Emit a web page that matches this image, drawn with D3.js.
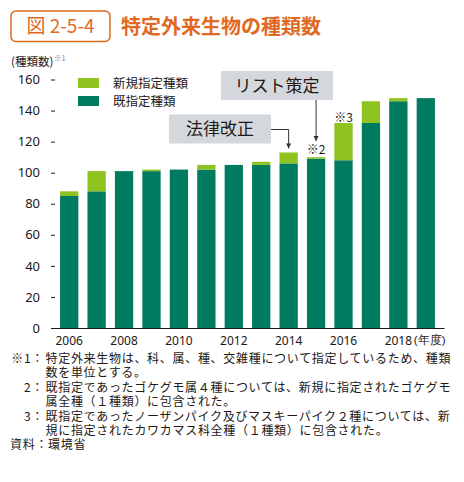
<!DOCTYPE html>
<html><head><meta charset="utf-8">
<script src="https://cdn.jsdelivr.net/npm/d3@7"></script>
<style>
html,body{margin:0;padding:0;background:#fff;}
svg{display:block;font-family:"Noto Sans CJK JP","Noto Sans",sans-serif;}
</style></head>
<body>
<script>
// ---- data ----
const years = [2006,2007,2008,2009,2010,2011,2012,2013,2014,2015,2016,2017,2018,2019];
const existing = [85,88,101,101,102,102,105,105,106,109,108,132,146,148];
const newly    = [3,13,0,1,0,3,0,2,7,1,24,14,2,0];
const xTickYears = [2006,2008,2010,2012,2014,2016,2018];
const yTicks = [0,20,40,60,80,100,120,140,160];
const seriesNames = ["新規指定種類","既指定種類"];
const marks = [{year:2015,label:"※2"},{year:2016,label:"※3"}];
const callouts = [{year:2014,label:"法律改正"},{year:2015,label:"リスト策定"}];
const notes = [
  {label:"※1：", lines:["特定外来生物は、科、属、種、交雑種について指定しているため、種類","数を単位とする。"]},
  {label:"2：", lines:["既指定であったゴケグモ属４種については、新規に指定されたゴケグモ","属全種（１種類）に包含された。"]},
  {label:"3：", lines:["既指定であったノーザンパイク及びマスキーパイク２種については、新","規に指定されたカワカマス科全種（１種類）に包含された。"]}
];
const sourceText = "資料：環境省";

const W=464,H=482;
const darkG="#007b5f", lightG="#8fc31f", orange="#e0691f", boxGray="#d4d8dd", ink="#231815";

const svg=d3.select("body").append("svg").attr("width",W).attr("height",H);

// title
svg.append("rect").attr("x",11).attr("y",11).attr("width",99).attr("height",30.5)
  .attr("rx",5).attr("fill","#fff").attr("stroke",orange).attr("stroke-width",1.5);
svg.append("text").attr("x",60.5).attr("y",33).attr("text-anchor","middle")
  .attr("fill",orange).attr("font-size",19).text("図 2-5-4");
svg.append("text").attr("x",121).attr("y",33.5).attr("fill",orange)
  .attr("font-size",20).attr("font-weight","bold").text("特定外来生物の種類数");

// scales
const x=d3.scaleBand().domain(years).range([51,444]).paddingInner(0.333).paddingOuter(0.33);
const y=d3.scaleLinear().domain([0,160]).range([328,79.5]);

// unit
svg.append("text").attr("x",11).attr("y",66).attr("font-size",11.5).attr("fill",ink).text("(種類数)");
svg.append("text").attr("x",54).attr("y",61).attr("font-size",7.5).attr("fill","#888").text("※1");

// y axis
const ya=svg.append("g").attr("transform","translate(55,0)")
  .call(d3.axisLeft(y).tickValues(yTicks).tickSize(4).tickPadding(11));
ya.select(".domain").remove();
ya.selectAll("line").attr("stroke",ink);
ya.selectAll("text").attr("font-size",13).attr("fill",ink).attr("font-family","'Noto Sans','Noto Sans CJK JP',sans-serif");

// bars
const data=years.map((yr,i)=>({yr,ex:existing[i],nw:newly[i]}));
svg.append("g").selectAll("rect").data(data).join("rect")
  .attr("x",d=>x(d.yr)).attr("width",x.bandwidth())
  .attr("y",d=>y(d.ex)).attr("height",d=>y(0)-y(d.ex)).attr("fill",darkG);
svg.append("g").selectAll("rect").data(data.filter(d=>d.nw>0)).join("rect")
  .attr("x",d=>x(d.yr)).attr("width",x.bandwidth())
  .attr("y",d=>y(d.ex+d.nw)).attr("height",d=>y(d.ex)-y(d.ex+d.nw)).attr("fill",lightG);

// x axis
const xa=svg.append("g").attr("transform","translate(0,328)")
  .call(d3.axisBottom(x).tickValues(xTickYears).tickSize(0).tickSizeOuter(0).tickPadding(8));
xa.select(".domain").attr("stroke",ink).attr("stroke-width",1.2);
xa.selectAll("text").attr("font-size",12).attr("fill",ink).attr("font-family","'Noto Sans','Noto Sans CJK JP',sans-serif");
xa.selectAll(".tick").filter(d=>d===2018).append("text")
  .attr("x",15.5).attr("y",8).attr("dy","0.71em").attr("text-anchor","start")
  .attr("fill",ink).attr("font-size",11.5).text("(年度)");

// legend
const lg=svg.append("g");
[lightG,darkG].forEach((c,i)=>{
  lg.append("rect").attr("x",78).attr("y",78+i*18).attr("width",21).attr("height",10).attr("fill",c);
  lg.append("text").attr("x",113).attr("y",88+i*18).attr("font-size",12.5).attr("fill",ink).text(seriesNames[i]);
});

// marks ※2 ※3
const total=yr=>{const i=years.indexOf(yr);return existing[i]+newly[i];};
marks.forEach((m,k)=>{
  svg.append("text").attr("x",x(m.year)+x.bandwidth()/2).attr("y",y(total(m.year))-(k===0?3:0.5))
    .attr("text-anchor","middle").attr("font-size",12).attr("fill",ink).text(m.label);
});

// callouts
svg.append("defs").append("marker").attr("id","ah").attr("viewBox","0 0 10 10")
  .attr("refX",10).attr("refY",5).attr("markerWidth",5).attr("markerHeight",6).attr("orient","auto")
  .append("path").attr("d","M0,0L10,5L0,10Z").attr("fill","#333");
// 法律改正
{
  const c=callouts[0]; const cx=x(c.year)+x.bandwidth()/2;
  svg.append("rect").attr("x",169).attr("y",114.5).attr("width",102).attr("height",29).attr("fill",boxGray);
  svg.append("text").attr("x",220).attr("y",135).attr("text-anchor","middle").attr("font-size",17).attr("fill",ink).text(c.label);
  svg.append("path").attr("d",`M271,129.5H${cx}V${y(total(c.year))-4}`).attr("fill","none")
    .attr("stroke","#333").attr("stroke-width",1).attr("marker-end","url(#ah)");
}
// リスト策定
{
  const c=callouts[1]; const cx=x(c.year)+x.bandwidth()/2;
  svg.append("rect").attr("x",221).attr("y",71).attr("width",112).attr("height",29).attr("fill",boxGray);
  svg.append("text").attr("x",277).attr("y",91.5).attr("text-anchor","middle").attr("font-size",17).attr("fill",ink).text(c.label);
  svg.append("path").attr("d",`M${cx},100V141`).attr("fill","none")
    .attr("stroke","#333").attr("stroke-width",1).attr("marker-end","url(#ah)");
}

// notes
const noteBase=[363,392,421];
const fs=12, ls=0.7, lineGap=14;
notes.forEach((n,i)=>{
  svg.append("text").attr("x",44).attr("y",noteBase[i]).attr("text-anchor","end")
    .attr("font-size",fs).attr("letter-spacing",ls).attr("fill",ink).text(n.label);
  const t=svg.append("text").attr("font-size",fs).attr("letter-spacing",ls).attr("fill",ink);
  n.lines.forEach((ln,j)=>{
    t.append("tspan").attr("x",45.5).attr("y",noteBase[i]+j*lineGap).text(ln);
  });
});
svg.append("text").attr("x",10).attr("y",449).attr("font-size",fs).attr("letter-spacing",ls).attr("fill",ink).text(sourceText);
</script>
</body></html>
